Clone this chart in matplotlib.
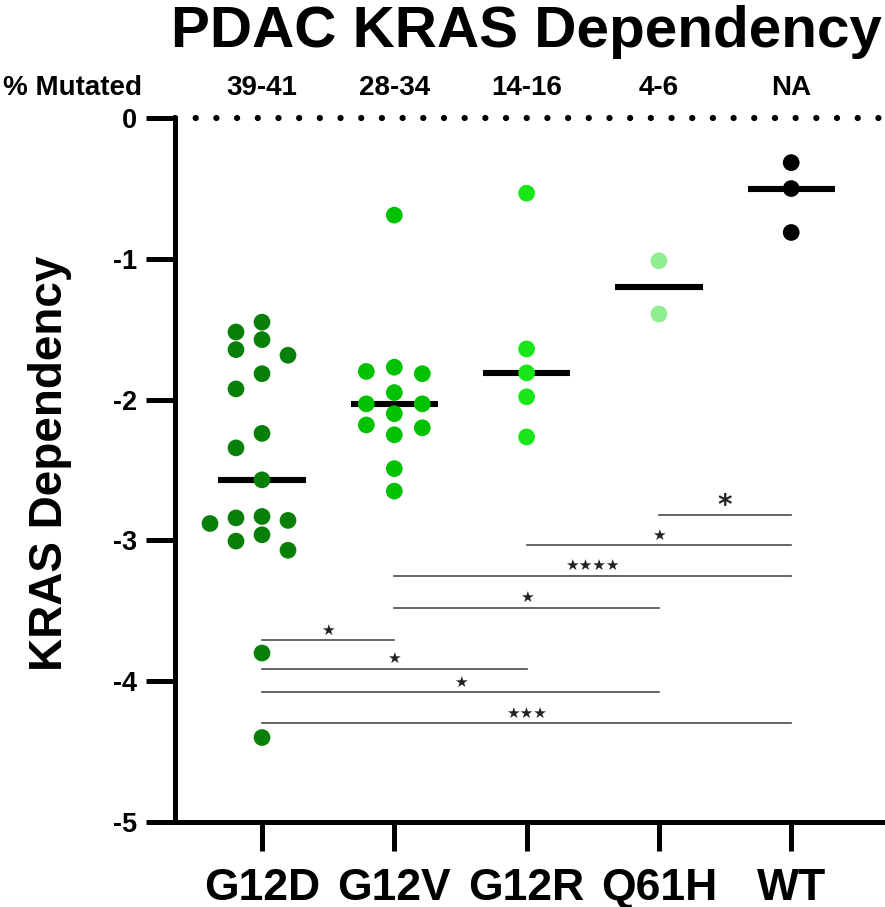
import numpy as np
import matplotlib
matplotlib.use("Agg")
import matplotlib.pyplot as plt
from matplotlib.transforms import blended_transform_factory

plt.rcParams['font.family'] = ['Liberation Sans', 'DejaVu Sans']

# ---------------- data ----------------
categories = ["G12D", "G12V", "G12R", "Q61H", "WT"]
pct_mutated = ["39-41", "28-34", "14-16", "4-6", "NA"]
colors = ["#087f08", "#00c200", "#19e619", "#90ee90", "#000000"]

g12d = [-1.45, -1.52, -1.574, -1.645, -1.685, -1.816, -1.924, -2.24, -2.343,
        -2.57, -2.83, -2.84, -2.858, -2.88, -2.96, -3.005, -3.07, -3.80, -4.40]
g12v = [-0.69, -1.77, -1.80, -1.816, -1.95, -2.03, -2.03, -2.10, -2.18,
        -2.20, -2.25, -2.49, -2.65]
g12r = [-0.534, -1.64, -1.81, -1.98, -2.265]
q61h = [-1.014, -1.392]
wt = [-0.317, -0.501, -0.813]
groups = [g12d, g12v, g12r, q61h, wt]

# significance comparisons: (group a, group b, label, y level)
comp_a = [3, 2, 1, 1, 0, 0, 0, 0]
comp_b = [4, 4, 4, 3, 1, 2, 3, 4]
comp_label = ["*", "\u2605", "\u2605\u2605\u2605\u2605", "\u2605", "\u2605", "\u2605", "\u2605", "\u2605\u2605\u2605"]
comp_y = [-2.82, -3.035, -3.25, -3.48, -3.71, -3.91, -4.08, -4.30]

yticks = [0, -1, -2, -3, -4, -5]

# ---------------- figure ----------------
W, H = 885, 907
fig = plt.figure(figsize=(W / 100, H / 100), dpi=100)
ax_l, ax_r, ax_t, ax_b = 175, 885, 118, 822
ax = fig.add_axes([ax_l / W, (H - ax_b) / H, (ax_r - ax_l) / W, (ax_b - ax_t) / H])

step = 132.3
x0 = 262
xmin = (ax_l - x0) / step
xmax = (ax_r - x0) / step
ax.set_xlim(xmin, xmax)
ax.set_ylim(-5, 0)

px_x = (ax_r - ax_l) / (xmax - xmin)   # pixels per x unit
px_y = (ax_b - ax_t) / 5.0             # pixels per y unit

# column-based swarm layout
def swarm(vals, col_px=26.0, min_dy=17.0):
    order = np.argsort(vals)[::-1]
    cols = {}
    offs = np.zeros(len(vals))
    seq = [0]
    for k in range(1, 10):
        seq += [-k, k]
    for i in order:
        yv = vals[i] * px_y
        for c in seq:
            placed = cols.get(c, [])
            if all(abs(yv - p) >= min_dy for p in placed):
                cols.setdefault(c, []).append(yv)
                offs[i] = c * col_px / px_x
                break
    return offs

col_spacing = [26, 28, 26, 26, 26]
for i, (vals, col) in enumerate(zip(groups, colors)):
    vals = np.array(vals)
    offs = swarm(vals, col_px=col_spacing[i])
    med = np.median(vals)
    ax.hlines(med, i - 0.33, i + 0.33, color="black", lw=4.4, zorder=3)
    ax.scatter(i + offs, vals, s=145, color=col, edgecolors="none", zorder=4, clip_on=False)

# dotted zero line
ax.axhline(0, color="black", lw=4.5, linestyle=(0, (0.01, 3.3)),
           dash_capstyle="round", zorder=2, clip_on=False)

# significance brackets
for a, b, lab, yv in zip(comp_a, comp_b, comp_label, comp_y):
    ax.plot([a, b], [yv, yv], color="#4a4a4a", lw=1.2, zorder=2)
    if lab == "*":
        ax.annotate(lab, xy=((a + b) / 2, yv), xytext=(0, 1.0), textcoords="offset points",
                    ha="center", va="baseline", fontsize=20, color="#222222",
                    fontweight="bold", family="DejaVu Sans")
    else:
        ax.annotate(lab, xy=((a + b) / 2, yv), xytext=(0, 4.0), textcoords="offset points",
                    ha="center", va="baseline", fontsize=11, color="#222222",
                    family="DejaVu Sans")

# spines & ticks
for s in ["top", "right"]:
    ax.spines[s].set_visible(False)
for s in ["left", "bottom"]:
    ax.spines[s].set_linewidth(3.6)
    ax.spines[s].set_color("black")
ax.spines["left"].set_capstyle("projecting")
ax.spines["bottom"].set_capstyle("projecting")

ax.set_yticks(yticks)
ax.set_yticklabels([str(t) for t in yticks])
ax.set_xticks(range(len(categories)))
ax.set_xticklabels(categories)
ax.tick_params(axis="y", length=21, width=3.6, pad=6.5, labelsize=19.5)
ax.tick_params(axis="x", length=21, width=3.6, pad=12, labelsize=32)
for lab in ax.get_yticklabels() + ax.get_xticklabels():
    lab.set_fontweight("bold")

# y label
fig.text(50 / W, 1 - 463 / H, "KRAS Dependency", rotation=90, ha="center", va="center",
         fontsize=33, fontweight="bold")

# title
fig.text(526 / W, 1 - 47 / H, "PDAC KRAS Dependency", ha="center", va="baseline",
         fontsize=42, fontweight="bold")

# % mutated row
trans = blended_transform_factory(ax.transData, fig.transFigure)
fig.text(3 / W, 1 - 95 / H, "% Mutated", ha="left", va="baseline", fontsize=20, fontweight="bold")
for i, p in enumerate(pct_mutated):
    ax.text(i, 1 - 95 / H, p, transform=trans, ha="center", va="baseline",
            fontsize=20, fontweight="bold")

fig.savefig("out.png", dpi=100, facecolor="white")
